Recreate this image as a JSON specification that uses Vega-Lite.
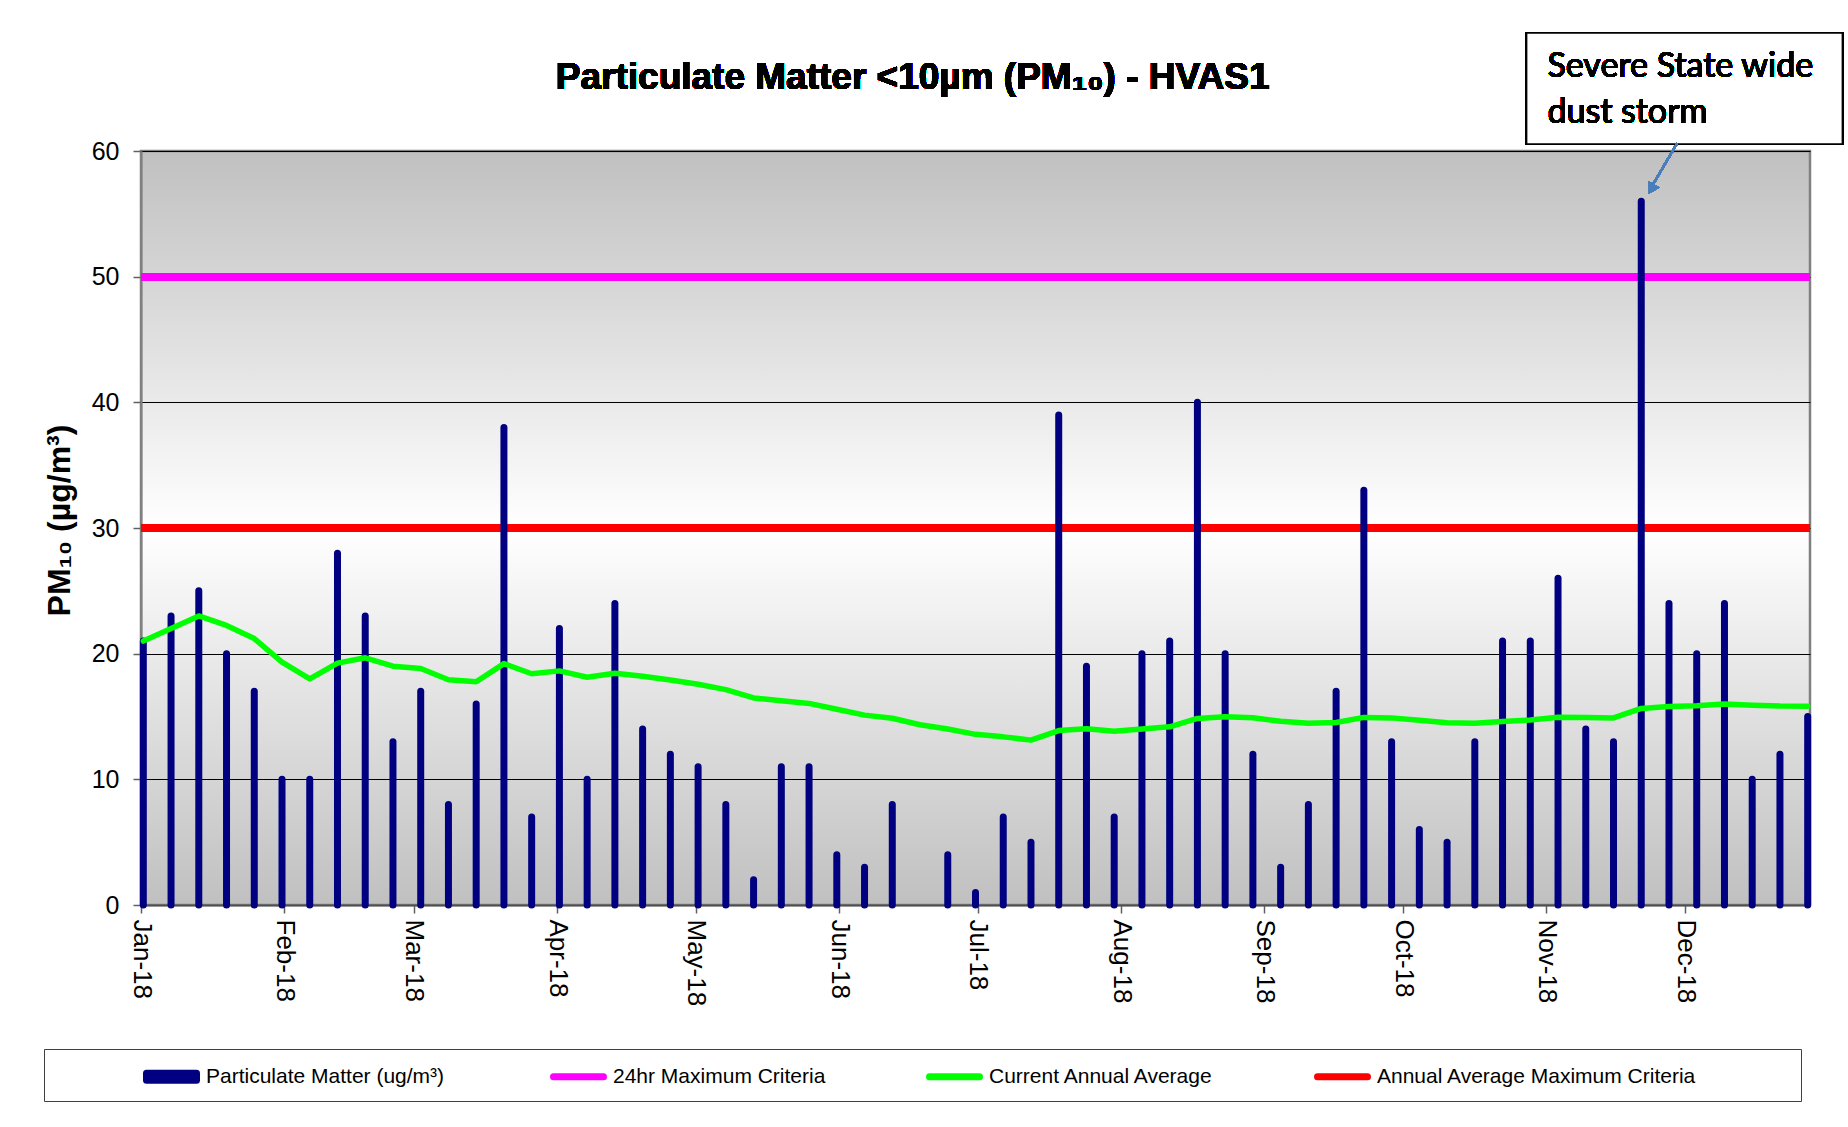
{
  "$schema": "https://vega.github.io/schema/vega-lite/v6.json",
  "width": 1669,
  "height": 754,
  "autosize": {"type": "none"},
  "padding": {"left": 141, "top": 151, "right": 38, "bottom": 222},
  "background": "#ffffff",
  "data": {
    "values": [
      {"date": "2018-01-01T12:00:00Z", "pm": 21, "avg": 21.0},
      {"date": "2018-01-07T12:00:00Z", "pm": 23, "avg": 22.0},
      {"date": "2018-01-13T12:00:00Z", "pm": 25, "avg": 23.0},
      {"date": "2018-01-19T12:00:00Z", "pm": 20, "avg": 22.25},
      {"date": "2018-01-25T12:00:00Z", "pm": 17, "avg": 21.2},
      {"date": "2018-01-31T12:00:00Z", "pm": 10, "avg": 19.33},
      {"date": "2018-02-06T12:00:00Z", "pm": 10, "avg": 18.0},
      {"date": "2018-02-12T12:00:00Z", "pm": 28, "avg": 19.25},
      {"date": "2018-02-18T12:00:00Z", "pm": 23, "avg": 19.67},
      {"date": "2018-02-24T12:00:00Z", "pm": 13, "avg": 19.0},
      {"date": "2018-03-02T12:00:00Z", "pm": 17, "avg": 18.82},
      {"date": "2018-03-08T12:00:00Z", "pm": 8, "avg": 17.92},
      {"date": "2018-03-14T12:00:00Z", "pm": 16, "avg": 17.77},
      {"date": "2018-03-20T12:00:00Z", "pm": 38, "avg": 19.21},
      {"date": "2018-03-26T12:00:00Z", "pm": 7, "avg": 18.4},
      {"date": "2018-04-01T12:00:00Z", "pm": 22, "avg": 18.63},
      {"date": "2018-04-07T12:00:00Z", "pm": 10, "avg": 18.12},
      {"date": "2018-04-13T12:00:00Z", "pm": 24, "avg": 18.44},
      {"date": "2018-04-19T12:00:00Z", "pm": 14, "avg": 18.21},
      {"date": "2018-04-25T12:00:00Z", "pm": 12, "avg": 17.9},
      {"date": "2018-05-01T12:00:00Z", "pm": 11, "avg": 17.57},
      {"date": "2018-05-07T12:00:00Z", "pm": 8, "avg": 17.14},
      {"date": "2018-05-13T12:00:00Z", "pm": 2, "avg": 16.48},
      {"date": "2018-05-19T12:00:00Z", "pm": 11, "avg": 16.25},
      {"date": "2018-05-25T12:00:00Z", "pm": 11, "avg": 16.04},
      {"date": "2018-05-31T12:00:00Z", "pm": 4, "avg": 15.58},
      {"date": "2018-06-06T12:00:00Z", "pm": 3, "avg": 15.11},
      {"date": "2018-06-12T12:00:00Z", "pm": 8, "avg": 14.86},
      {"date": "2018-06-18T12:00:00Z", "pm": null, "avg": 14.34},
      {"date": "2018-06-24T12:00:00Z", "pm": 4, "avg": 14.0},
      {"date": "2018-06-30T12:00:00Z", "pm": 1, "avg": 13.58},
      {"date": "2018-07-06T12:00:00Z", "pm": 7, "avg": 13.38},
      {"date": "2018-07-12T12:00:00Z", "pm": 5, "avg": 13.12},
      {"date": "2018-07-18T12:00:00Z", "pm": 39, "avg": 13.88},
      {"date": "2018-07-24T12:00:00Z", "pm": 19, "avg": 14.03},
      {"date": "2018-07-30T12:00:00Z", "pm": 7, "avg": 13.83},
      {"date": "2018-08-05T12:00:00Z", "pm": 20, "avg": 14.0},
      {"date": "2018-08-11T12:00:00Z", "pm": 21, "avg": 14.18},
      {"date": "2018-08-17T12:00:00Z", "pm": 40, "avg": 14.85},
      {"date": "2018-08-23T12:00:00Z", "pm": 20, "avg": 14.98},
      {"date": "2018-08-29T12:00:00Z", "pm": 12, "avg": 14.9},
      {"date": "2018-09-04T12:00:00Z", "pm": 3, "avg": 14.62},
      {"date": "2018-09-10T12:00:00Z", "pm": 8, "avg": 14.47},
      {"date": "2018-09-16T12:00:00Z", "pm": 17, "avg": 14.52},
      {"date": "2018-09-22T12:00:00Z", "pm": 33, "avg": 14.93},
      {"date": "2018-09-28T12:00:00Z", "pm": 13, "avg": 14.89},
      {"date": "2018-10-04T12:00:00Z", "pm": 6, "avg": 14.7},
      {"date": "2018-10-10T12:00:00Z", "pm": 5, "avg": 14.5},
      {"date": "2018-10-16T12:00:00Z", "pm": 13, "avg": 14.47},
      {"date": "2018-10-22T12:00:00Z", "pm": 21, "avg": 14.6},
      {"date": "2018-10-28T12:00:00Z", "pm": 21, "avg": 14.73},
      {"date": "2018-11-03T12:00:00Z", "pm": 26, "avg": 14.94},
      {"date": "2018-11-09T12:00:00Z", "pm": 14, "avg": 14.92},
      {"date": "2018-11-15T12:00:00Z", "pm": 13, "avg": 14.89},
      {"date": "2018-11-21T12:00:00Z", "pm": 56, "avg": 15.64},
      {"date": "2018-11-27T12:00:00Z", "pm": 24, "avg": 15.79},
      {"date": "2018-12-03T12:00:00Z", "pm": 20, "avg": 15.86},
      {"date": "2018-12-09T12:00:00Z", "pm": 24, "avg": 16.0},
      {"date": "2018-12-15T12:00:00Z", "pm": 10, "avg": 15.9},
      {"date": "2018-12-21T12:00:00Z", "pm": 12, "avg": 15.83},
      {"date": "2018-12-27T12:00:00Z", "pm": 15, "avg": 15.82}
    ]
  },
  "layer": [
    {
      "mark": {"type": "rule", "strokeWidth": 7},
      "encoding": {
        "y": {"datum": 50, "type": "quantitative"},
        "color": {"datum": "24hr Maximum Criteria"}
      }
    },
    {
      "mark": {"type": "rule", "strokeWidth": 7},
      "encoding": {
        "y": {"datum": 30, "type": "quantitative"},
        "color": {"datum": "Annual Average Maximum Criteria"}
      }
    },
    {
      "mark": {"type": "rule", "strokeWidth": 7, "strokeCap": "round"},
      "encoding": {
        "x": {
          "field": "date",
          "type": "temporal",
          "scale": {
            "type": "utc",
            "domain": [
              {"year": 2018, "month": 1, "date": 1, "utc": true},
              {"year": 2018, "month": 12, "date": 28, "utc": true}
            ]
          },
          "axis": {
            "title": null,
            "format": "%b-%y",
            "tickCount": {"interval": "month", "step": 1},
            "labelAngle": 90,
            "labelFlush": false,
            "labelOverlap": false,
            "labelFont": "Liberation Sans",
            "labelFontSize": 26,
            "labelColor": "#000000",
            "labelPadding": 6,
            "tickSize": 8,
            "tickColor": "#606060",
            "tickWidth": 1.5,
            "domainColor": "#505050",
            "domainWidth": 2,
            "grid": false
          }
        },
        "y": {
          "field": "pm",
          "type": "quantitative",
          "scale": {"domain": [0, 60], "nice": false},
          "axis": {
            "title": "PM₁₀ (µg/m³)",
            "titleFont": "Liberation Sans",
            "titleFontSize": 32,
            "titleFontWeight": "bold",
            "titleColor": "#000000",
            "titlePadding": 15,
            "titleY": 369,
            "values": [0, 10, 20, 30, 40, 50, 60],
            "labelFont": "Liberation Sans",
            "labelFontSize": 25,
            "labelColor": "#000000",
            "labelPadding": 14,
            "tickSize": 8,
            "tickColor": "#606060",
            "tickWidth": 1.5,
            "domainColor": "#808080",
            "domainWidth": 2,
            "grid": true,
            "gridColor": "#000000",
            "gridWidth": 1.2
          }
        },
        "y2": {"datum": 0},
        "color": {
          "datum": "Particulate Matter  (ug/m³)",
          "scale": {
            "domain": ["Particulate Matter  (ug/m³)", "24hr Maximum Criteria", "Current Annual Average", "Annual Average Maximum Criteria"],
            "range": ["#000080", "#ff00ff", "#00ff00", "#ff0000"]
          },
          "legend": {
            "title": " ",
            "titleOrient": "left",
            "titleFontSize": 1,
            "titlePadding": 85,
            "orient": "none",
            "legendX": -97,
            "legendY": 898,
            "direction": "horizontal",
            "columns": 4,
            "symbolType": "M-2.5,0H2.5",
            "symbolSize": 400,
            "symbolStrokeWidth": 7,
            "symbolOffset": 15,
            "labelOffset": 21,
            "labelFont": "Liberation Sans",
            "labelFontSize": 21,
            "labelColor": "#000000",
            "labelLimit": 800,
            "columnPadding": 100,
            "padding": 14,
            "strokeColor": "#404040",
            "fillColor": "#ffffff",
            "labelExpr": "datum.label == 'Annual Average Maximum Criteria' ? datum.label + '\u2800\u2800\u2800\u2800\u2800\u2800' : datum.label",
            "encode": {
              "symbols": {
                "update": {
                  "shape": {"signal": "datum.value == 'Particulate Matter  (ug/m³)' ? 'M-2.5,-0.35H2.5V0.35H-2.5Z' : 'M-2.5,0H2.5'"},
                  "fill": {"signal": "datum.value == 'Particulate Matter  (ug/m³)' ? '#000080' : 'transparent'"},
                  "strokeCap": {"value": "round"},
                  "strokeJoin": {"value": "round"}
                }
              }
            }
          }
        }
      }
    },
    {
      "mark": {"type": "line", "strokeWidth": 5.5, "strokeJoin": "round", "strokeCap": "round"},
      "encoding": {
        "x": {"field": "date", "type": "temporal"},
        "y": {"field": "avg", "type": "quantitative"},
        "color": {"datum": "Current Annual Average"}
      }
    },
    {
      "mark": {"type": "rect", "fill": "#ffffff", "stroke": "#000000", "strokeWidth": 1.5},
      "encoding": {
        "x": {"datum": {"year": 2018, "month": 10, "date": 27, "hours": 17, "utc": true}, "type": "temporal"},
        "x2": {"datum": {"year": 2019, "month": 1, "date": 4, "utc": true}},
        "y": {"datum": 69.39, "type": "quantitative"},
        "y2": {"datum": 60.56}
      }
    },
    {
      "mark": {"type": "text", "text": ["Severe State wide", "dust storm"], "font": "Lato", "fontSize": 34, "lineHeight": 46, "align": "left", "baseline": "alphabetic", "color": "#000000"},
      "encoding": {
        "x": {"datum": {"year": 2018, "month": 11, "date": 1, "hours": 5, "utc": true}, "type": "temporal"},
        "y": {"datum": 65.85, "type": "quantitative"}
      }
    },
    {
      "mark": {"type": "rule", "stroke": "#4a7ebb", "strokeWidth": 2},
      "encoding": {
        "x": {"datum": {"year": 2018, "month": 11, "date": 29, "hours": 7, "utc": true}, "type": "temporal"},
        "x2": {"datum": {"year": 2018, "month": 11, "date": 24, "hours": 2, "minutes": 30, "utc": true}},
        "y": {"datum": 60.63, "type": "quantitative"},
        "y2": {"datum": 57.37}
      }
    },
    {
      "mark": {"type": "point", "shape": "triangle-up", "size": 150, "angle": 210, "filled": true, "fill": "#4a7ebb", "opacity": 1, "strokeWidth": 0},
      "encoding": {
        "x": {"datum": {"year": 2018, "month": 11, "date": 23, "hours": 17, "utc": true}, "type": "temporal"},
        "y": {"datum": 56.97, "type": "quantitative"}
      }
    },
    {
      "mark": {"type": "text", "text": "Particulate Matter <10µm (PM₁₀) - HVAS1", "font": "Liberation Sans", "fontSize": 37, "fontWeight": "bold", "align": "center", "baseline": "alphabetic", "color": "#000000"},
      "encoding": {
        "x": {"datum": {"year": 2018, "month": 6, "date": 16, "hours": 21, "minutes": 36, "utc": true}, "type": "temporal"},
        "y": {"datum": 64.93, "type": "quantitative"}
      }
    }
  ],
  "config": {
    "view": {
      "stroke": "#808080",
      "strokeWidth": 2.5,
      "fill": {
        "gradient": "linear",
        "x1": 0, "y1": 0, "x2": 0, "y2": 1,
        "stops": [
          {"offset": 0, "color": "#c0c0c0"},
          {"offset": 0.5, "color": "#ffffff"},
          {"offset": 1, "color": "#c0c0c0"}
        ]
      }
    }
  }
}
